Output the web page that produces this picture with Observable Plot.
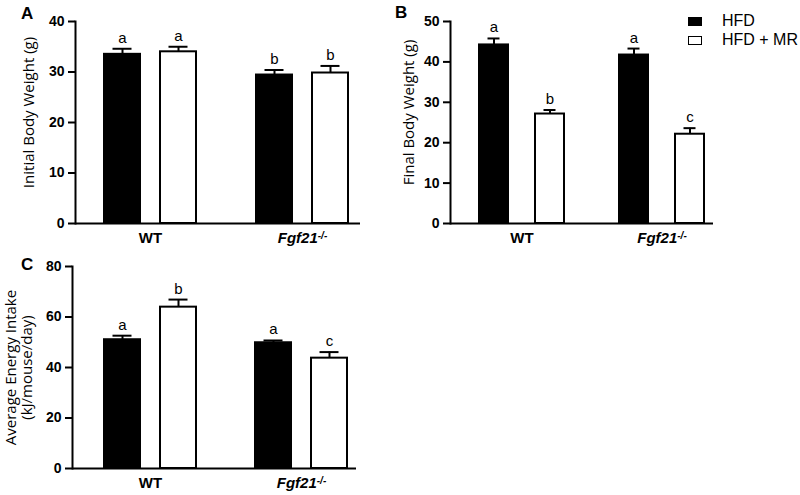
<!DOCTYPE html>
<html>
<head>
<meta charset="utf-8">
<script src="https://cdn.jsdelivr.net/npm/d3@7"></script>
<script src="https://cdn.jsdelivr.net/npm/@observablehq/plot@0.6"></script>
<style>
  html, body { margin: 0; padding: 0; background: #fff; }
  #wrap { position: relative; width: 800px; height: 495px; overflow: hidden; font-family: "Liberation Sans", Arial, sans-serif; color: #000; }
  .panel { position: absolute; }
  .panel svg { overflow: visible; }
  .plabel { position: absolute; font-weight: bold; font-size: 17px; line-height: 17px; }
  .leg { position: absolute; display: flex; align-items: center; font-size: 16px; line-height: 18px; white-space: nowrap; }
  .sw { display: inline-block; box-sizing: border-box; width: 14px; height: 9px; margin-right: 20px; }
</style>
</head>
<body>
<div id="wrap"></div>
<script>
// ---------- data ----------
const genotypes = ["WT", "Fgf21"];
const diets = ["HFD", "HFD + MR"];
const dietFill = ["#000", "#fff"];

// order: WT-HFD, WT-HFD+MR, Fgf21-HFD, Fgf21-HFD+MR
const initialMean = [33.5, 34.0, 29.4, 29.8];
const initialSEM  = [1.1, 1.0, 1.0, 1.4];
const initialSig  = ["a", "a", "b", "b"];

const finalMean = [44.2, 27.1, 41.7, 22.1];
const finalSEM  = [1.6, 1.0, 1.6, 1.5];
const finalSig  = ["a", "b", "a", "c"];

const intakeMean = [51.0, 63.9, 49.8, 43.7];
const intakeSEM  = [1.6, 3.0, 0.9, 2.4];
const intakeSig  = ["a", "b", "a", "c"];

const initialTicks = [0, 10, 20, 30, 40];
const finalTicks = [0, 10, 20, 30, 40, 50];
const intakeTicks = [0, 20, 40, 60, 80];

// ---------- helpers ----------
function rowsFor(means, sems, sigs) {
  return genotypes.flatMap((g, i) => diets.map((d, j) => ({
    genotype: g, diet: d, mean: means[2 * i + j], sem: sems[2 * i + j], sig: sigs[2 * i + j]
  })));
}

const BW = 94;          // group band width (px) set by the x scale options
const BAR = 36;         // bar width (px, without outer stroke half)
const CAP = 19;         // error cap width

function barMarks(rows) {
  const marks = [];
  diets.forEach((d, j) => {
    const sub = rows.filter(r => r.diet === d);
    const first = j === 0;
    const barL = first ? 1 : BW - BAR - 1;
    const barR = first ? BW - BAR - 1 : 1;
    const center = first ? 1 + BAR / 2 : BW - 1 - BAR / 2;
    const dx = center - BW / 2;
    marks.push(Plot.barY(sub, {
      x: "genotype", y: "mean", fill: dietFill[j], stroke: "#000", strokeWidth: 2,
      insetLeft: barL, insetRight: barR
    }));
    marks.push(Plot.ruleX(sub, {
      x: "genotype", y1: "mean", y2: r => r.mean + r.sem, dx, stroke: "#000", strokeWidth: 2
    }));
    marks.push(Plot.tickY(sub, {
      x: "genotype", y: r => r.mean + r.sem, stroke: "#000", strokeWidth: 2,
      insetLeft: center - CAP / 2, insetRight: BW - center - CAP / 2
    }));
    marks.push(Plot.text(sub, {
      x: "genotype", y: r => r.mean + r.sem, text: "sig", dx, dy: -6,
      lineAnchor: "bottom", fontSize: 15, fill: "#000"
    }));
  });
  return marks;
}

function makePanel(cfg) {
  const rows = rowsFor(cfg.mean, cfg.sem, cfg.sig);
  const titleMarks = cfg.titles.map(t => Plot.text([t.text], {
    text: d => d, frameAnchor: "left", textAnchor: "middle", lineAnchor: "middle",
    rotate: -90, dx: t.dx, dy: t.dy,
    fontSize: 15, fontFamily: "Open Sans, sans-serif", fill: "#000"
  }));
  const svg = Plot.plot({
    width: cfg.width, height: cfg.height,
    marginLeft: cfg.mL, marginRight: cfg.mR, marginTop: cfg.mT, marginBottom: cfg.mB,
    style: { fontFamily: "Liberation Sans, Arial, sans-serif", background: "transparent", color: "#000", overflow: "visible" },
    x: { type: "band", domain: genotypes, paddingInner: cfg.pi, paddingOuter: cfg.po, align: cfg.align },
    y: { domain: cfg.yDomain },
    marks: [
      ...barMarks(rows),
      Plot.ruleY([0], { stroke: "#000", strokeWidth: 2 }),
      Plot.frame({ anchor: "left", stroke: "#000", strokeWidth: 2 }),
      Plot.axisY({ ticks: cfg.ticks, tickSize: 7, tickPadding: 4, strokeWidth: 2, fontSize: 14, fontWeight: "bold", label: null }),
      Plot.axisX({ tickSize: 0, tickPadding: 9, fontSize: 15, fontWeight: "bold", label: null }),
      ...titleMarks
    ]
  });
  // genotype label: italic gene name with superscript -/-
  d3.select(svg).selectAll('[aria-label="x-axis tick label"] text')
    .filter(function () { return this.textContent === "Fgf21"; })
    .style("font-style", "italic")
    .append("tspan").attr("dy", "-0.45em").style("font-size", "10px").text("-/-");
  const div = document.createElement("div");
  div.className = "panel";
  div.style.left = cfg.left + "px";
  div.style.top = cfg.top + "px";
  div.appendChild(svg);
  document.getElementById("wrap").appendChild(div);
}

// Panel A
makePanel({
  left: 0, top: 0, width: 380, height: 250, mL: 75, mR: 20, mT: 21, mB: 27,
  pi: 0.3816, po: 0.128, align: 0.725,
  yDomain: [0, 40], ticks: initialTicks,
  mean: initialMean, sem: initialSEM, sig: initialSig,
  titles: [{ text: "Initial Body Weight (g)", dx: -46, dy: -10 }]
});
// Panel B
makePanel({
  left: 380, top: 0, width: 400, height: 250, mL: 70, mR: 67, mT: 21, mB: 27,
  pi: 0.3775, po: 0.126, align: 0.77,
  yDomain: [0, 50], ticks: finalTicks,
  mean: finalMean, sem: finalSEM, sig: finalSig,
  titles: [{ text: "Final Body Weight (g)", dx: -41, dy: -10 }]
});
// Panel C
makePanel({
  left: 0, top: 250, width: 380, height: 245, mL: 72, mR: 24, mT: 16, mB: 27,
  pi: 0.3775, po: 0.1291, align: 0.795,
  yDomain: [0, 80], ticks: intakeTicks,
  mean: intakeMean, sem: intakeSEM, sig: intakeSig,
  titles: [
    { text: "Average Energy Intake", dx: -61, dy: 0 },
    { text: "(kJ/mouse/day)", dx: -45, dy: 0 }
  ]
});

// panel letters
const wrap = document.getElementById("wrap");
[["A", 21, 5], ["B", 395, 4], ["C", 21, 256]].forEach(([t, x, y]) => {
  const el = document.createElement("div");
  el.className = "plabel"; el.textContent = t;
  el.style.left = x + "px"; el.style.top = y + "px";
  wrap.appendChild(el);
});

// legend
diets.forEach((d, j) => {
  const el = document.createElement("div");
  el.className = "leg";
  el.style.left = "688px";
  el.style.top = (12 + j * 19) + "px";
  const sw = document.createElement("span");
  sw.className = "sw";
  sw.style.background = dietFill[j];
  sw.style.border = "1.5px solid #000";
  const tx = document.createElement("span");
  tx.textContent = d;
  el.appendChild(sw); el.appendChild(tx);
  wrap.appendChild(el);
});
</script>
</body>
</html>
